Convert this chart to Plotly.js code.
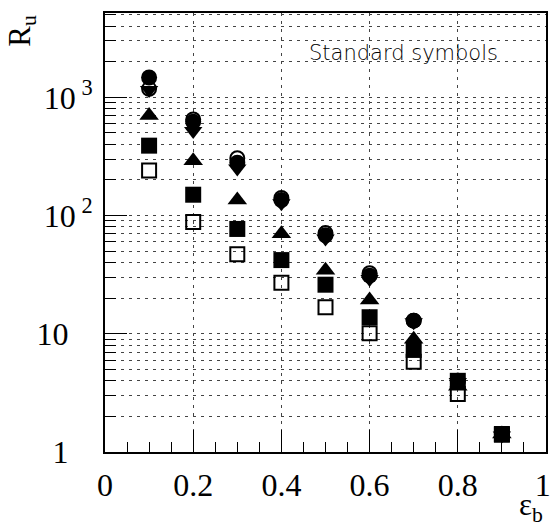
<!DOCTYPE html>
<html><head><meta charset="utf-8">
<script src="https://cdn.plot.ly/plotly-3.0.1.min.js"></script>
<style>html,body{margin:0;padding:0;background:#fff}#chart{width:550px;height:528px}</style>
</head><body><div id="chart"></div>
<script>
// data (x = signal/background efficiency eps_b)
const xVals = [0.1, 0.2, 0.3, 0.4, 0.5, 0.6, 0.7, 0.8, 0.9];
const fullCircle       = [1470, 620, 280, 135, 68, 31, 12.9, 4.0, 1.42];
const openCircle       = [1180, 650, 305, 141, 71, 32.5, 12.9, 4.0, 1.42];
const fullTriangleDown = [1150, 520, 250, 127, 64, 29, 12.5, 3.9, 1.38];
const fullTriangleUp   = [700, 290, 135, 70, 34.5, 19.3, 9.0, 3.6, 1.42];
const fullSquare       = [390, 150, 77, 42, 26, 13.8, 7.3, 4.0, 1.42];
const openSquare       = [240, 88, 47, 27, 16.8, 10.1, 5.8, 3.1, 1.40];

const xTickVals = [0, 0.2, 0.4, 0.6, 0.8, 1];
const xTickText = ['0', '0.2', '0.4', '0.6', '0.8', '1\u2009'];
const yTickVals = [1, 10, 100, 1000];
const yTickText = ['1\u00a0\u00a0\u00a0', '10\u00a0\u00a0\u00a0', '10<sup>\u00a02</sup>', '10<sup>\u00a03</sup>'];

const yMinor = [];
for (let k = 0; k < 4; k++) for (let m = 2; m <= 9; m++) yMinor.push(m * Math.pow(10, k));

function tr(y, symbol, size, open) {
  return {
    x: xVals, y: y, type: 'scatter', mode: 'markers', hoverinfo: 'skip',
    marker: {
      symbol: symbol, size: size, color: '#000',
      line: {width: open ? 2 : 0, color: '#000'}
    }
  };
}

const data = [
  tr(fullTriangleDown, 'triangle-down', 16, false),
  tr(fullCircle, 'circle', 16, false),
  tr(fullTriangleUp, 'triangle-up', 17, false),
  tr(fullSquare, 'square', 16, false),
  tr(openCircle, 'circle-open', 14, true),
  tr(openSquare, 'square-open', 14, true)
];

const gridCol = '#444';
const serif = 'Liberation Serif, Times New Roman, serif';
const tickFont = {family: serif, size: 32, color: '#000'};

const layout = {
  width: 550, height: 528,
  margin: {l: 105, r: 4, t: 13, b: 76},
  paper_bgcolor: '#fff', plot_bgcolor: '#fff',
  showlegend: false,
  xaxis: {
    range: [0, 1], tickmode: 'array', tickvals: xTickVals, ticktext: xTickText,
    ticks: 'inside', ticklen: 22, tickwidth: 1, tickcolor: '#000',
    showgrid: true, gridcolor: gridCol, griddash: '3px,5px', gridwidth: 1,
    showline: true, linecolor: '#000', linewidth: 2, mirror: true, zeroline: false,
    tickfont: tickFont, ticklabelstandoff: 4, ticklabeloverflow: 'allow',
    minor: {dtick: 0.05, tick0: 0, ticks: 'inside', ticklen: 10, tickwidth: 1, tickcolor: '#000', showgrid: false}
  },
  yaxis: {
    type: 'log', range: [0, 3.713], tickmode: 'array', tickvals: yTickVals, ticktext: yTickText,
    ticks: 'inside', ticklen: 22, tickwidth: 1, tickcolor: '#000',
    showgrid: true, gridcolor: gridCol, griddash: '3px,5px', gridwidth: 1,
    showline: true, linecolor: '#000', linewidth: 2, mirror: true, zeroline: false,
    tickfont: tickFont, ticklabelstandoff: 4, ticklabeloverflow: 'allow',
    minor: {tickmode: 'array', tickvals: yMinor, ticks: 'inside', ticklen: 11, tickwidth: 1, tickcolor: '#000',
            showgrid: true, gridcolor: gridCol, griddash: '3px,5px', gridwidth: 1}
  },
  annotations: [
    {text: 'R<sub>u</sub>', xref: 'paper', yref: 'paper', x: -0.19, y: 0.96, textangle: -90,
     xanchor: 'center', yanchor: 'middle', showarrow: false,
     font: {family: serif, size: 31, color: '#000'}},
    {text: '\u03b5<sub>b</sub>', xref: 'paper', yref: 'paper', x: 0.997, y: -0.125,
     xanchor: 'right', yanchor: 'middle', showarrow: false,
     font: {family: serif, size: 31, color: '#000'}},
    {text: 'Standard symbols', xref: 'paper', yref: 'paper', x: 0.677, y: 0.909,
     xanchor: 'center', yanchor: 'middle', showarrow: false,
     font: {family: 'DejaVu Sans, sans-serif', size: 21, weight: 200, color: '#000'}}
  ]
};

Plotly.newPlot('chart', data, layout, {displayModeBar: false, staticPlot: true});
</script>
</body></html>
